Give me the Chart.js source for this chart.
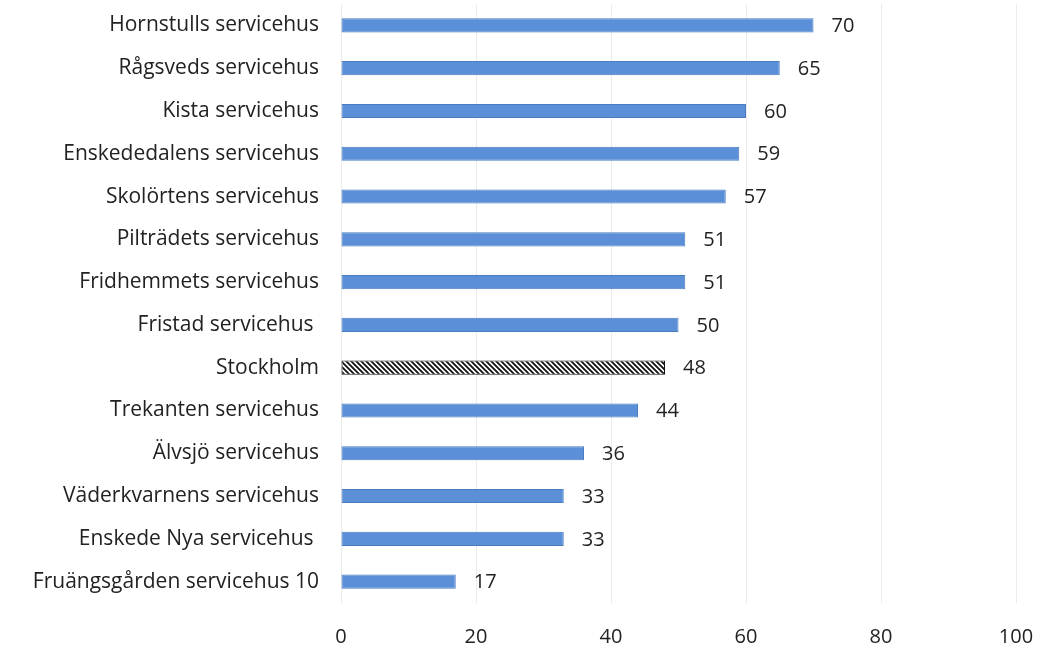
<!DOCTYPE html>
<html>
<head>
<meta charset="utf-8">
<script src="https://cdn.jsdelivr.net/npm/chart.js@4"></script>
<style>
  html, body { margin: 0; padding: 0; background: #fff; }
  #wrap { width: 1046px; height: 647px; }
</style>
</head>
<body>
<div id="wrap"><canvas id="chart" width="1046" height="647"></canvas></div>
<script>
// categories and values
const categories = [
  'Hornstulls servicehus',
  'Rågsveds servicehus',
  'Kista servicehus',
  'Enskededalens servicehus',
  'Skolörtens servicehus',
  'Pilträdets servicehus',
  'Fridhemmets servicehus',
  'Fristad servicehus ',
  'Stockholm',
  'Trekanten servicehus',
  'Älvsjö servicehus',
  'Väderkvarnens servicehus',
  'Enskede Nya servicehus ',
  'Fruängsgården servicehus 10'
];
const values = [70, 65, 60, 59, 57, 51, 51, 50, 48, 44, 36, 33, 33, 17];
const xTicks = [0, 20, 40, 60, 80, 100];
const highlight = 'Stockholm';

const FONT = "'Open Sans', sans-serif";

// diagonal hatch for the Stockholm bar
function makeHatch() {
  const c = document.createElement('canvas');
  c.width = 5; c.height = 5;
  const g = c.getContext('2d');
  g.fillStyle = '#fff';
  g.fillRect(0, 0, 5, 5);
  g.strokeStyle = '#111';
  g.lineWidth = 1.8;
  g.beginPath();
  g.moveTo(-1, -1); g.lineTo(6, 6);
  g.moveTo(-4, 1); g.lineTo(1, 6);
  g.moveTo(1, -4); g.lineTo(6, 1);
  g.stroke();
  return g.createPattern(c, 'repeat');
}

document.addEventListener("DOMContentLoaded", function () {
  const ctx = document.getElementById('chart').getContext('2d');
  const hatch = makeHatch();

  // value text to the right of each bar
  const valueLabels = {
    id: 'valueLabels',
    afterDatasetsDraw(chart) {
      const c = chart.ctx;
      const meta = chart.getDatasetMeta(0);
      c.save();
      c.font = '20px ' + FONT;
      c.fillStyle = '#222';
      c.textAlign = 'left';
      c.textBaseline = 'middle';
      meta.data.forEach((bar, i) => {
        c.fillText(String(values[i]), bar.x + 18, bar.y + 1);
      });
      c.restore();
    }
  };

  new Chart(ctx, {
    type: 'bar',
    data: {
      labels: categories,
      datasets: [{
        data: values,
        backgroundColor: categories.map(c => c === highlight ? hatch : '#5b8fd8'),
        borderColor: categories.map(c => c === highlight ? '#111' : '#4a7cc2'),
        borderWidth: 1,
        borderSkipped: false,
        barPercentage: 0.66,
        categoryPercentage: 0.5
      }]
    },
    options: {
      indexAxis: 'y',
      responsive: false,
      animation: false,
      layout: { padding: { top: 4, right: 30, left: 0, bottom: 0 } },
      plugins: {
        legend: { display: false },
        tooltip: { enabled: false }
      },
      scales: {
        x: {
          min: 0,
          max: 100,
          afterBuildTicks(axis) { axis.ticks = xTicks.map(v => ({ value: v })); },
          afterFit(axis) {
            axis.height = 44;
            axis.paddingLeft = 0;
            axis.paddingRight = 0;
          },
          grid: { color: '#ebebeb', drawTicks: false },
          border: { display: false },
          ticks: { padding: 22, color: '#222', font: { family: FONT, size: 20 } }
        },
        y: {
          afterFit(axis) {
            axis.width = 341;
            axis.paddingTop = 0;
            axis.paddingBottom = 0;
          },
          grid: { display: false, drawTicks: false },
          border: { display: false },
          ticks: { padding: 22, color: '#222', font: { family: FONT, size: 21 } }
        }
      }
    },
    plugins: [valueLabels]
  });
});
</script>
</body>
</html>
